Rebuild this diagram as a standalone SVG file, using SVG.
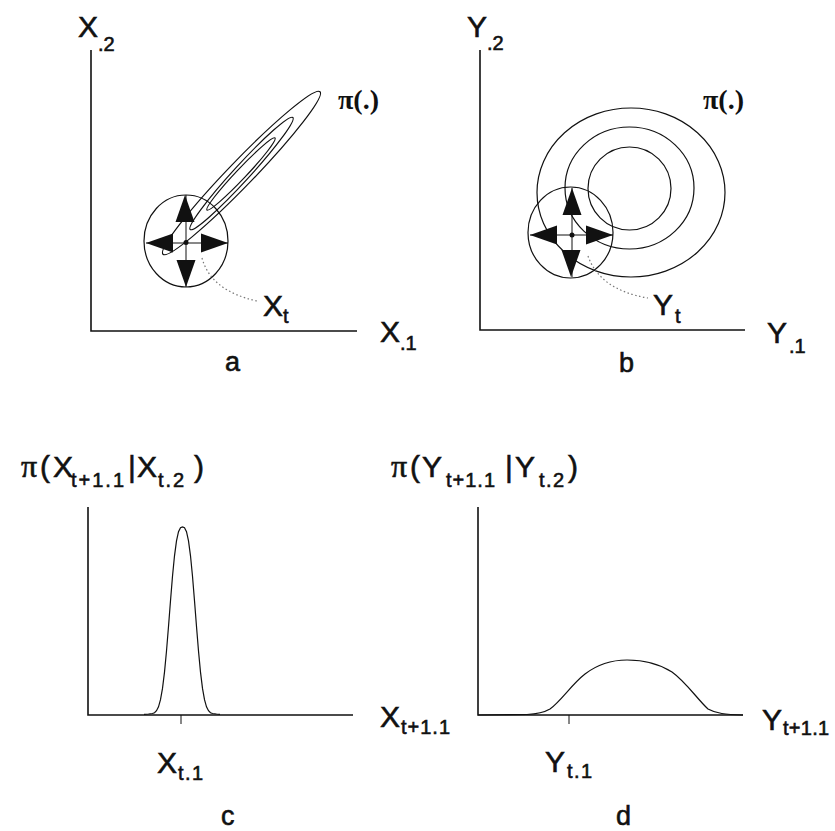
<svg xmlns="http://www.w3.org/2000/svg" xmlns:xlink="http://www.w3.org/1999/xlink" width="835" height="831" viewBox="0 0 835 831">
<style>
  .ax{stroke:#111;stroke-width:1.6;fill:none}
  .ct{stroke:#111;stroke-width:1.2;fill:none}
  .thin{stroke:#111;stroke-width:1;fill:none}
  .lead{stroke:#777;stroke-width:1.2;fill:none;stroke-dasharray:1.5 2.5}
  .t{font-family:"Liberation Sans",Arial,sans-serif;font-size:30px;fill:#111;stroke:#111;stroke-width:0.6}
  .s{font-size:20px}
  .pi{font-family:"Liberation Serif","Times New Roman",serif}
  .pib{font-family:"Liberation Serif","Times New Roman",serif;font-weight:bold;font-size:28px;fill:#111}
  .cap{font-family:"Liberation Sans",Arial,sans-serif;font-size:27px;fill:#111;stroke:#111;stroke-width:0.6}
  .ah{fill:#111}
</style>
<defs>
  <path id="ah" d="M0,0 L-9.5,27 L9.5,27 Z"/>
</defs>
<rect width="835" height="831" fill="#fff"/>

<g id="panel-a">
  <path class="ax" d="M91,50 V331 H357"/>
  <g id="a-contours">
    <ellipse class="ct" cx="241.5" cy="173" rx="113" ry="12.5" transform="rotate(-46 241.5 173)"/>
    <ellipse class="ct" cx="241.5" cy="173.5" rx="76" ry="8" transform="rotate(-47.5 241.5 173.5)"/>
    <ellipse class="ct" cx="241" cy="174" rx="49.5" ry="5" transform="rotate(-46.6 241 174)"/>
  </g>
  <g id="a-proposal">
    <ellipse class="ct" cx="186" cy="241" rx="42" ry="46"/>
    <path class="thin" d="M146,243 H228 M186,195 V287"/>
    <circle cx="186" cy="242.5" r="2.5" fill="#111"/>
  </g>
  <text class="t" x="78" y="37">X<tspan class="s" x="98" y="51">.2</tspan></text>
  <text class="t" x="380" y="342">X<tspan class="s" x="400" y="350">.1</tspan></text>
  <text class="t" x="263" y="316">X<tspan class="s" x="283" y="323">t</tspan></text>
  <text class="pib" x="338" y="109">π(.)</text>
  <text class="cap" x="225" y="371">a</text>
</g>

<g id="panel-b">
  <path class="ax" d="M480,50 V330 H745"/>
  <g id="b-contours">
    <ellipse class="ct" cx="631" cy="192.5" rx="94" ry="84.5"/>
    <ellipse class="ct" cx="629.5" cy="188" rx="64.5" ry="61"/>
    <ellipse class="ct" cx="629.5" cy="188.5" rx="41.5" ry="41.5"/>
  </g>
  <g id="b-proposal">
    <ellipse class="ct" cx="570.5" cy="232.5" rx="42.5" ry="45.5"/>
    <path class="thin" d="M530,235 H613 M572,188 V277"/>
    <circle cx="572" cy="235" r="2.5" fill="#111"/>
  </g>
  <text class="t" x="467" y="37">Y<tspan class="s" x="487" y="50">.2</tspan></text>
  <text class="t" x="767" y="343">Y<tspan class="s" x="789" y="353">.1</tspan></text>
  <text class="t" x="653" y="315">Y<tspan class="s" x="675" y="323">t</tspan></text>
  <text class="pib" x="703" y="109">π(.)</text>
  <text class="cap" x="619" y="372">b</text>
</g>

<g id="panel-c">
  <path class="ax" d="M88,507 V715 H353"/>
  <path class="thin" d="M181,715 V724"/>
  <polyline class="ct" points="144,714.3 148.5,714 152.5,713.5 154.5,712.7 156.5,710.7 158.5,706.8 160.5,699.7 162.5,688.4 164.5,672.1 166.5,651 168.5,626.5 170.5,600.7 172.5,576.3 174.5,555.8 176.5,540.8 178.5,531.7 180.5,527.8 182.5,527 184.5,527.8 186.5,531.7 188.5,540.8 190.5,555.8 192.5,576.3 194.5,600.7 196.5,626.5 198.5,651 200.5,672.1 202.5,688.4 204.5,699.7 206.5,706.8 208.5,710.7 210.5,712.7 212.5,713.5 216.5,714 220,714.3"/>
  <text class="t" y="477"><tspan class="pi" x="21" font-size="32">π</tspan><tspan x="40">(</tspan><tspan x="53">X</tspan><tspan class="s" x="71" y="487" letter-spacing="2">t+1.1</tspan><tspan x="128" y="477">|</tspan><tspan x="137">X</tspan><tspan class="s" x="158" y="487" letter-spacing="2">t.2</tspan><tspan x="194" y="477">)</tspan></text>
  <text class="t" x="380" y="727">X<tspan class="s" x="401" y="734" letter-spacing="1">t+1.1</tspan></text>
  <text class="t" x="157" y="773">X<tspan class="s" x="178" y="780" letter-spacing="1.5">t.1</tspan></text>
  <text class="cap" x="221" y="825">c</text>
</g>

<g id="panel-d">
  <path class="ax" d="M478,507 V715 H743"/>
  <path class="thin" d="M569,715 V724"/>
  <path class="ct" d="M478,715 L527,714.5 C538,714 544,712.5 550,709 C561,701 572,684 585,674 C598,664 612,660 627,660 C642,660 658,663 672,672 C686,682 698,700 708,709 C716,713.5 725,714.5 743,715"/>
  <text class="t" y="477"><tspan class="pi" x="391" font-size="32">π</tspan><tspan x="410">(</tspan><tspan x="422">Y</tspan><tspan class="s" x="446" y="487" letter-spacing="1">t+1.1</tspan><tspan x="505" y="477">|</tspan><tspan x="515">Y</tspan><tspan class="s" x="539" y="487" letter-spacing="1.5">t.2</tspan><tspan x="568" y="477">)</tspan></text>
  <text class="t" x="762" y="730">Y<tspan class="s" x="783" y="735" letter-spacing="0.3">t+1.1</tspan></text>
  <text class="t" x="545" y="772">Y<tspan class="s" x="567" y="778" letter-spacing="1.5">t.1</tspan></text>
  <text class="cap" x="616" y="825">d</text>
</g>

<g id="connectors">
  <g class="ah">
    <use xlink:href="#ah" href="#ah" transform="translate(185,195)"/>
    <use xlink:href="#ah" href="#ah" transform="translate(186,287) rotate(180)"/>
    <use xlink:href="#ah" href="#ah" transform="translate(146,243) rotate(-90)"/>
    <use xlink:href="#ah" href="#ah" transform="translate(228,243) rotate(90)"/>
    <use xlink:href="#ah" href="#ah" transform="translate(572,188)"/>
    <use xlink:href="#ah" href="#ah" transform="translate(571,277) rotate(180)"/>
    <use xlink:href="#ah" href="#ah" transform="translate(530,235) rotate(-90)"/>
    <use xlink:href="#ah" href="#ah" transform="translate(613,235) rotate(90)"/>
  </g>
  <path class="lead" d="M202,258 Q211,291 257,301"/>
  <path class="lead" d="M588,256 Q600,290 648,298"/>
</g>
</svg>
